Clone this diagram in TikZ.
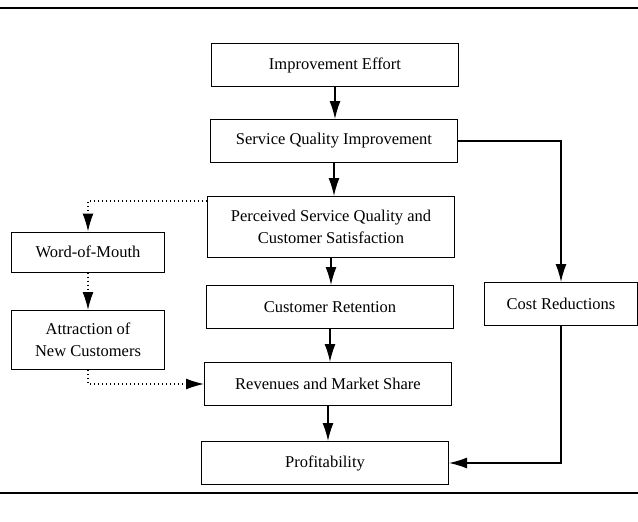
\documentclass[tikz,border=0pt]{standalone}
\usepackage{fontspec}
\setmainfont{Liberation Serif}
\usetikzlibrary{arrows.meta}
\tikzset{
  box/.style={draw, line width=1pt, minimum width=247pt, minimum height=43pt,
    align=center, inner sep=2pt, font=\fontsize{16.5}{22}\selectfont},
  sidebox/.style={box, minimum width=153pt},
  flow/.style={-{Latex[length=18pt,width=11pt]}, line width=1.3pt},
  dotflow/.style={flow, dash pattern=on 1.2pt off 2.8pt}
}

\begin{document}
\begin{tikzpicture}[x=1pt,y=-1pt]
\useasboundingbox (0,0) rectangle (638,522);
% rules
\draw[line width=2.8pt] (0,8) -- (638,8);
\draw[line width=2.8pt] (0,493) -- (638,493);

\node[box] (effort) at (335,65) {Improvement Effort};
\node[box] (quality) at (334,141) {Service Quality Improvement};
\node[box, minimum height=61pt] (perceived) at (331,227) {Perceived Service Quality and\\Customer Satisfaction};
\node[box] (retention) at (330,307) {Customer Retention};
\node[box] (revenue) at (328,384) {Revenues and Market Share};
\node[box] (profit) at (325,463) {Profitability};
\node[sidebox, minimum height=40pt] (mouth) at (88,252) {Word-of-Mouth};
\node[sidebox, minimum height=59pt] (attract) at (88,340) {Attraction of\\New Customers};
\node[sidebox] (cost) at (561,304) {Cost Reductions};

\draw[flow] (effort.south) -- (effort.south |- quality.north);
\draw[flow] (quality.south) -- (quality.south |- perceived.north);
\draw[flow] (perceived.south) -- (perceived.south |- retention.north);
\draw[flow] (retention.south) -- (retention.south |- revenue.north);
\draw[flow] (revenue.south) -- (revenue.south |- profit.north);
\draw[flow] (quality) -| (cost);
\draw[flow] (cost) |- (profit);

\draw[dotflow] ([yshift=-5pt]perceived.north west) -| (mouth);
\draw[dotflow] (mouth) -- (attract);
\draw[dotflow] (attract) |- (revenue);
\end{tikzpicture}
\end{document}
